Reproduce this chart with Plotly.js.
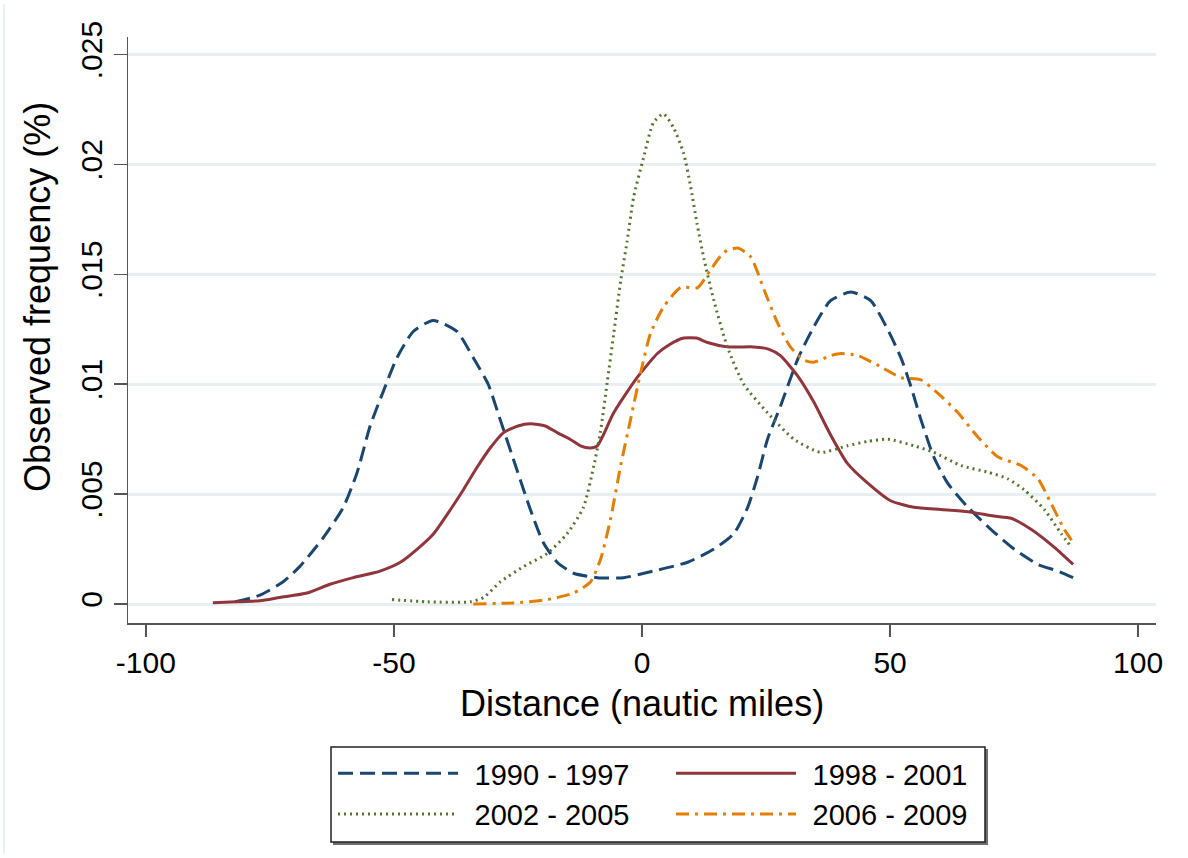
<!DOCTYPE html>
<html>
<head>
<meta charset="utf-8">
<script src="https://cdn.plot.ly/plotly-3.0.1.min.js"></script>
<style>html,body{margin:0;padding:0;background:#fff;}#chart{width:1188px;height:858px;}</style>
</head>
<body>
<div id="chart"></div>
<script>
// Series names
const seriesNames = ["1990 - 1997", "1998 - 2001", "2002 - 2005", "2006 - 2009"];

// 1990 - 1997
const x1990 = [-82, -77, -72.4, -69, -64.3, -60.2, -57.4, -54.8, -52.1, -49.4, -46.1, -42.1, -37.3, -34, -31, -28.6, -25.2, -22.5, -19.9, -17.1, -13.8, -9, -3.7, 2.3, 9.2, 14.5, 18.5, 21.3, 23.3, 25.3, 27.9, 31.5, 34.6, 38, 42.1, 46.1, 49.5, 52.2, 54.2, 56.2, 58.8, 61.6, 65.7, 70.3, 75, 79.8, 83.8, 86.9];
const y1990 = [0.0001, 0.0004, 0.001, 0.0017, 0.003, 0.0044, 0.006, 0.0081, 0.0097, 0.0112, 0.0124, 0.0129, 0.0124, 0.0112, 0.0100, 0.0084, 0.0061, 0.0043, 0.0028, 0.0019, 0.0014, 0.0012, 0.0012, 0.0015, 0.0019, 0.0025, 0.0032, 0.0044, 0.0058, 0.0075, 0.0090, 0.0112, 0.0126, 0.0138, 0.0142, 0.0138, 0.0125, 0.0112, 0.0099, 0.0084, 0.0067, 0.0055, 0.0044, 0.0034, 0.0025, 0.0018, 0.0015, 0.0012];

// 1998 - 2001
const x1998 = [-86.5, -81.7, -77, -73, -67.5, -62.9, -58.2, -52.8, -48.7, -45.3, -42, -38.6, -36, -33.3, -30.6, -27.9, -25, -22.5, -19.5, -17.1, -14.5, -12.4, -10.5, -9, -5.7, -1, 3.1, 5.5, 8.4, 11, 13.2, 17.2, 22.5, 25.5, 27.9, 31.3, 34.6, 38, 41.4, 45.5, 50.1, 54.8, 60.2, 65.7, 70.9, 74.4, 78.4, 83, 86.9];
const y1998 = [0.00006, 0.0001, 0.00015, 0.0003, 0.0005, 0.0009, 0.0012, 0.0015, 0.0019, 0.0025, 0.0032, 0.0043, 0.0052, 0.0062, 0.0071, 0.0078, 0.0081, 0.0082, 0.0081, 0.0078, 0.0075, 0.0072, 0.0071, 0.0072, 0.0087, 0.0103, 0.0114, 0.0118, 0.0121, 0.0121, 0.0119, 0.0117, 0.0117, 0.0116, 0.0113, 0.0104, 0.0092, 0.0077, 0.0064, 0.0055, 0.0047, 0.0044, 0.0043, 0.0042, 0.004, 0.0039, 0.0034, 0.0026, 0.0018];

// 2002 - 2005
const x2002 = [-50.4, -43.3, -34.6, -31.9, -28.6, -23.9, -19.1, -15.1, -11.8, -9.7, -8.4, -7, -5.7, -4.3, -3, -1.7, 0.3, 2.3, 4.3, 6.3, 8.4, 9.8, 11.1, 12.5, 14.5, 17.2, 20.5, 25.3, 30.6, 36, 41.4, 45.5, 49.5, 54.8, 58.8, 64.3, 69.7, 73.7, 77, 81.1, 84.5, 86.5];
const y2002 = [0.0002, 0.0001, 0.0001, 0.0003, 0.0010, 0.0017, 0.0023, 0.0032, 0.0044, 0.0063, 0.0078, 0.0101, 0.0123, 0.0147, 0.0165, 0.0185, 0.0203, 0.0219, 0.0223, 0.0217, 0.0205, 0.019, 0.0173, 0.0157, 0.0138, 0.0117, 0.0100, 0.0087, 0.0075, 0.0069, 0.0072, 0.0074, 0.0075, 0.0072, 0.0069, 0.0063, 0.006, 0.0057, 0.0052, 0.0043, 0.0032, 0.0026];

// 2006 - 2009
const x2006 = [-34, -25.9, -19.1, -13.8, -10.4, -8.4, -6.4, -4.3, -2.3, -0.3, 1.7, 4.3, 7.8, 11.2, 13.8, 16.5, 19.3, 21.9, 24.6, 27.3, 29.9, 32.6, 34.6, 38, 40.1, 43.5, 48.1, 52.2, 56.2, 59.6, 63.7, 67.7, 71.7, 76.4, 79.8, 82.4, 85.1, 86.9];
const y2006 = [0, 0.00005, 0.0002, 0.0005, 0.001, 0.002, 0.0038, 0.0063, 0.0084, 0.0105, 0.0123, 0.0135, 0.0144, 0.0144, 0.0152, 0.016, 0.0162, 0.0158, 0.0143, 0.0128, 0.0117, 0.0111, 0.011, 0.0113, 0.0114, 0.0113, 0.0108, 0.0103, 0.0102, 0.0096, 0.0087, 0.0076, 0.0067, 0.0063, 0.0057, 0.0046, 0.0034, 0.0028];

// Axis ticks
const xTickVals = [-100, -50, 0, 50, 100];
const xTickText = ["-100", "-50", "0", "50", "100"];
const yTickVals = [0, 0.005, 0.01, 0.015, 0.02, 0.025];
const yTickText = ["0", ".005", ".01", ".015", ".02", ".025"];

const FONT = "Liberation Sans, Arial, sans-serif";
const LEG_PAD = "\u2009\u2009"; // small gap between legend key and label

function mk(x, y, name, color, dash, legend) {
  return {
    type: "scatter", mode: "lines", x: x, y: y, name: LEG_PAD + name,
    line: {color: color, width: 3, dash: dash, shape: "spline", smoothing: 0.6},
    legend: legend, hoverinfo: "skip"
  };
}

const traces = [
  mk(x1990, y1990, seriesNames[0], "#1a476f", "15px,7px", "legend"),
  mk(x1998, y1998, seriesNames[1], "#90353b", "solid", "legend2"),
  mk(x2002, y2002, seriesNames[2], "#55752f", "2px,4px", "legend"),
  mk(x2006, y2006, seriesNames[3], "#e37e00", "13px,6px,3px,6px", "legend2")
];

const W = 1188, H = 858, L = 128, R = 32, T = 37, B = 235;
const pw = W - L - R, ph = H - T - B;
const px = v => (v - L) / pw;
const py = v => (H - B - v) / ph;

const legendCommon = {
  orientation: "v", xanchor: "left", yanchor: "top",
  font: {family: FONT, size: 29, color: "#000"},
  bgcolor: "rgba(0,0,0,0)", borderwidth: 0, itemwidth: 120,
  itemclick: false, itemdoubleclick: false
};

const layout = {
  width: W, height: H,
  margin: {l: L, r: R, t: T, b: B},
  paper_bgcolor: "#fff", plot_bgcolor: "#fff",
  font: {family: FONT, color: "#000"},
  showlegend: true,
  xaxis: {
    range: [-103.6, 103.6], tickvals: xTickVals, ticktext: xTickText,
    ticks: "outside", ticklen: 12, tickwidth: 1.5, tickcolor: "#555",
    showline: true, linecolor: "#555", linewidth: 1.5,
    showgrid: false, zeroline: false,
    tickfont: {family: FONT, size: 30, color: "#000"}
  },
  yaxis: {
    range: [-0.000864, 0.0258], tickvals: yTickVals, ticktext: yTickText,
    ticks: "outside", ticklen: 13, tickwidth: 1.5, tickcolor: "#555",
    showline: true, linecolor: "#555", linewidth: 1.5,
    showgrid: true, gridcolor: "#e8eff1", gridwidth: 3, zeroline: false,
    tickangle: -90,
    tickfont: {family: FONT, size: 30, color: "#000"}
  },
  legend: Object.assign({}, legendCommon, {x: px(333), y: py(748)}),
  legend2: Object.assign({}, legendCommon, {x: px(671), y: py(748)}),
  annotations: [
    {text: "Distance (nautic miles)", xref: "paper", yref: "paper", x: 0.5, y: py(703),
     xanchor: "center", yanchor: "middle", showarrow: false,
     font: {family: FONT, size: 36, color: "#000"}},
    {text: "Observed frequency (%)", xref: "paper", yref: "paper", x: px(37), y: py(297),
     xanchor: "center", yanchor: "middle", showarrow: false, textangle: -90,
     font: {family: FONT, size: 36, color: "#000"}}
  ],
  shapes: [
    {type: "line", xref: "paper", yref: "paper", x0: px(4), x1: px(4), y0: py(4), y1: py(854),
     line: {width: 1.5, color: "#e6edf0"}, layer: "below"},
    {type: "rect", xref: "paper", yref: "paper", x0: px(333), x1: px(988), y0: py(845), y1: py(749),
     line: {width: 0}, fillcolor: "#6f6f6f", layer: "below"},
    {type: "rect", xref: "paper", yref: "paper", x0: px(331), x1: px(985), y0: py(842), y1: py(747),
     line: {width: 1.5, color: "#222"}, fillcolor: "#fff", layer: "below"}
  ]
};

Plotly.newPlot("chart", traces, layout, {staticPlot: true, displayModeBar: false});
</script>
</body>
</html>
